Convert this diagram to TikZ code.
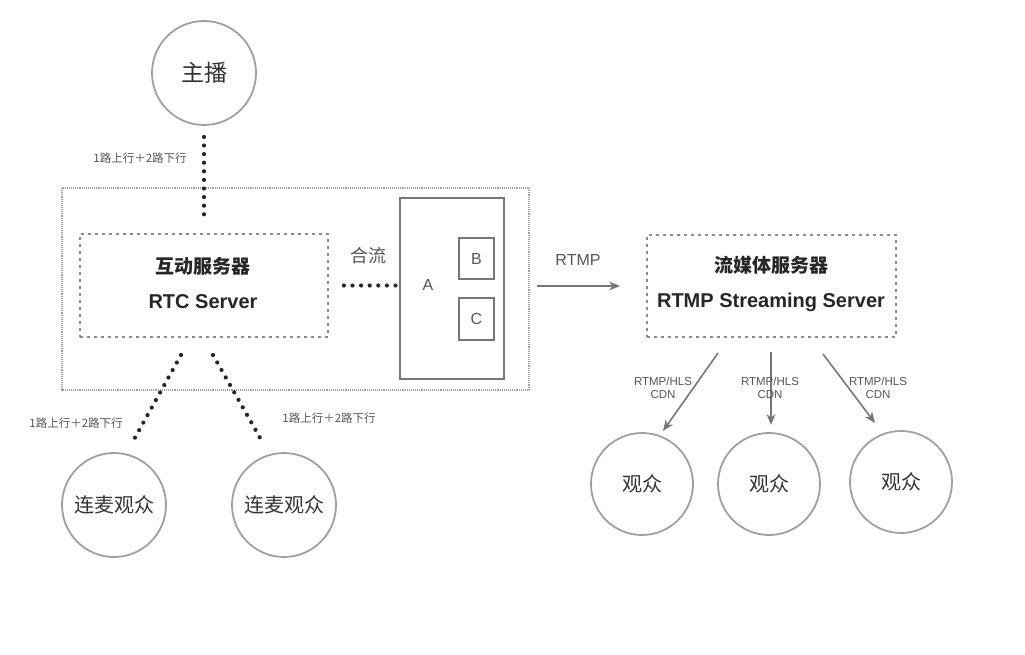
\documentclass[tikz,border=0pt]{standalone}
\usepackage{fontspec}
\setmainfont{Liberation Sans}
\newfontfamily\cjk{Noto Sans CJK SC}
\usetikzlibrary{arrows.meta,calc}
\definecolor{circ}{HTML}{A0A0A0}
\definecolor{boxg}{HTML}{8A8A8A}
\definecolor{txtg}{HTML}{555555}
\definecolor{arrg}{HTML}{777777}
\tikzset{
  person/.style={circle,draw=circ,line width=1.8pt,minimum size=104pt,inner sep=0pt,font=\cjk\fontsize{20}{24}\selectfont,text=black!80},
  dotline/.style={line width=4.2pt,line cap=round,dash pattern=on 0pt off 8.6pt,draw=black!85},
  outerbox/.style={draw=circ,line width=1.5pt,dash pattern=on 1pt off 0.9pt},
  srvbox/.style={draw=boxg,line width=1.8pt,dash pattern=on 3pt off 4pt},
  solidbox/.style={draw=arrg,line width=1.6pt},
  small/.style={font=\cjk\fontsize{11.5}{13}\selectfont,text=txtg},
  cdn/.style={font=\fontsize{11.5}{13.5}\selectfont,text=txtg,align=center},
  flow/.style={draw=arrg,line width=1.6pt,-{Stealth[length=11pt,width=9pt]}},
  bigtxt/.style={font=\bfseries\fontsize{20}{24}\selectfont,text=black!85},
  bigcjk/.style={font=\cjk\bfseries\fontsize{19}{24}\selectfont,text=black!85},
}
\begin{document}
\begin{tikzpicture}[x=1pt,y=-1pt]
\useasboundingbox (0,0) rectangle (1025,655);
% main anchor
\node[person,font=\cjk\fontsize{23}{26}\selectfont] (zhubo) at (204,73) {主播};
% outer box
\draw[outerbox] (62,188) rectangle (529,390);
% RTC server box
\node[srvbox,minimum width=248pt,minimum height=103pt,inner sep=0pt] (rtc) at (204,285.5) {};
\node[bigcjk] at (203,266) {互动服务器};
\node[bigtxt] at (203,302) {RTC Server};
% mixing box A
\node[solidbox,minimum width=104pt,minimum height=181pt,inner sep=0pt] (abox) at (452,288.5) {};
\node[font=\fontsize{16}{18}\selectfont,text=txtg] (alab) at (428,285) {A};
\node[solidbox,minimum width=35pt,minimum height=41pt,inner sep=0pt,font=\fontsize{16}{18}\selectfont,text=txtg] (bbox) at (476.5,258.5) {B};
\node[solidbox,minimum width=35pt,minimum height=42pt,inner sep=0pt,font=\fontsize{16}{18}\selectfont,text=txtg] (cbox) at (476.5,319) {C};
\node[font=\cjk\fontsize{18}{20}\selectfont,text=txtg] (hl) at (368,256) {合流};
% streaming server
\node[srvbox,minimum width=249pt,minimum height=102pt,inner sep=0pt] (rtmp) at (771.5,286) {};
\node[bigcjk] at (771,265) {流媒体服务器};
\node[bigtxt] at (771,302) {RTMP Streaming Server};
% guests
\node[person] (g1) at (114,505) {连麦观众};
\node[person] (g2) at (284,505) {连麦观众};
% viewers
\node[person,minimum size=102pt] (v1) at (642,484) {观众};
\node[person,minimum size=102pt] (v2) at (769,484) {观众};
\node[person,minimum size=102pt] (v3) at (901,482) {观众};
% dotted connectors
\draw[dotline,shorten <=11pt,shorten >=15pt] (zhubo.south) -- (rtc.north);
\node[small] at (140,158) {1路上行＋2路下行};
\draw[dotline,shorten <=15pt] (rtc.east) -- (abox.west |- rtc.east);
\coordinate (l1) at (181,355);
\coordinate (l2) at (132,443);
\coordinate (r1) at (213,355);
\coordinate (r2) at (263,443);
\draw[dotline] (l1) -- (l2);
\draw[dotline] (r1) -- (r2);
\node[small] at (76,423) {1路上行＋2路下行};
\node[small] at (329,418) {1路上行＋2路下行};
% RTMP arrow
\coordinate (ra) at (537,286);
\coordinate (rb) at (620,286);
\draw[flow] (ra) -- (rb);
\node[font=\fontsize{16}{18}\selectfont,text=txtg] at (578,260) {RTMP};
% CDN arrows
\coordinate (d1s) at (718,353);
\coordinate (d1e) at (663,431);
\coordinate (d2s) at (771,352);
\coordinate (d2e) at (771,425);
\coordinate (d3s) at (823,354);
\coordinate (d3e) at (875,423);
\draw[flow] (d1s) -- (d1e);
\draw[flow] (d2s) -- (d2e);
\draw[flow] (d3s) -- (d3e);
\node[cdn] at (663,388) {RTMP/HLS\\CDN};
\node[cdn] at (770,388) {RTMP/HLS\\CDN};
\node[cdn] at (878,388) {RTMP/HLS\\CDN};
\end{tikzpicture}
\end{document}
